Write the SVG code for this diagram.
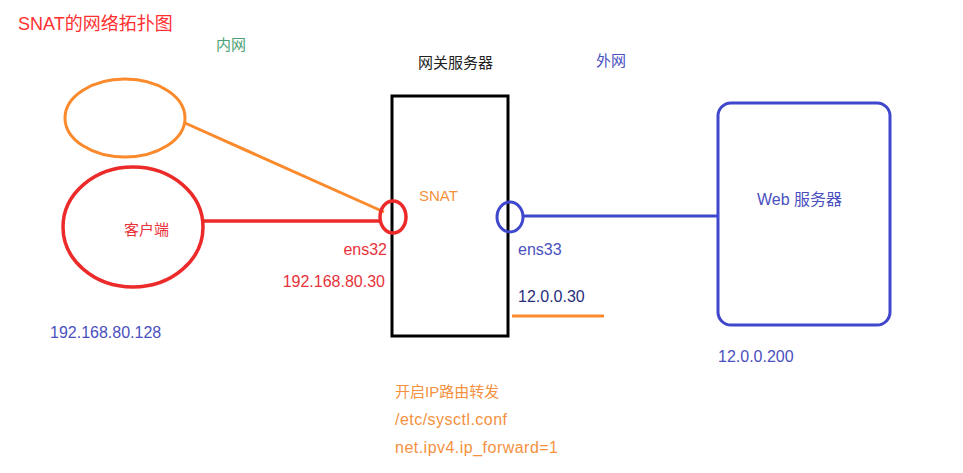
<svg xmlns="http://www.w3.org/2000/svg" width="963" height="473" viewBox="0 0 963 473">
<style>
text{font-family:"Liberation Sans","Noto Sans CJK SC",sans-serif;}
.red{fill:#e8323a;}
.org{fill:#f5913e;}
.blu{fill:#4a50c0;}
.grn{fill:#4aa274;}
.blk{fill:#222;}
.s-org{stroke:#fb8a2c;fill:none;stroke-width:3;}
.s-red{stroke:#ec2a2a;fill:none;stroke-width:3.5;}
.s-blu{stroke:#3f48cc;fill:none;stroke-width:3;}
</style>
<rect width="963" height="473" fill="#fff"/>
<text x="18" y="30" font-size="18" fill="#ff3030">SNAT的网络拓扑图</text>
<text x="216" y="50" font-size="15" class="grn">内网</text>
<text x="418" y="68" font-size="15" class="blk">网关服务器</text>
<text x="596" y="66" font-size="15" class="blu">外网</text>

<g id="connectors">
<line x1="185" y1="123" x2="384" y2="212" class="s-org"/>
<line x1="203" y1="221" x2="381" y2="221" class="s-red"/>
<line x1="523" y1="216" x2="719" y2="216" class="s-blu"/>
<line x1="512" y1="316" x2="604" y2="316" class="s-org"/>
</g>

<g id="lan-host">
<ellipse cx="125" cy="118" rx="60" ry="39" class="s-org"/>
</g>
<g id="client">
<ellipse cx="133" cy="227" rx="70" ry="60" class="s-red"/>
<text x="124" y="235" font-size="15" class="red">客户端</text>
<text x="50" y="338" font-size="16" class="blu">192.168.80.128</text>
</g>
<g id="gateway">
<rect x="392" y="96" width="116" height="240" fill="none" stroke="#000" stroke-width="3"/>
<text x="419" y="201" font-size="15" class="org">SNAT</text>
<text x="395" y="397" font-size="15" class="org">开启IP路由转发</text>
<text x="395" y="425" font-size="16" class="org" textLength="112" lengthAdjust="spacing">/etc/sysctl.conf</text>
<text x="395" y="453" font-size="16" class="org" textLength="163" lengthAdjust="spacing">net.ipv4.ip_forward=1</text>
</g>
<g id="ens32">
<ellipse cx="393" cy="217" rx="13" ry="16" class="s-red"/>
<text x="387" y="255" font-size="16" text-anchor="end" class="red">ens32</text>
<text x="385" y="287" font-size="16" text-anchor="end" class="red">192.168.80.30</text>
</g>
<g id="ens33">
<ellipse cx="510" cy="217" rx="13" ry="15" class="s-blu"/>
<text x="518" y="255" font-size="16" class="blu">ens33</text>
<text x="518" y="302" font-size="16" fill="#2a2f7a">12.0.0.30</text>
</g>
<g id="web-server">
<rect x="718" y="103" width="172" height="222" rx="13" class="s-blu"/>
<text x="757" y="205" font-size="16" class="blu">Web 服务器</text>
<text x="718" y="362" font-size="16" class="blu">12.0.0.200</text>
</g>
</svg>
